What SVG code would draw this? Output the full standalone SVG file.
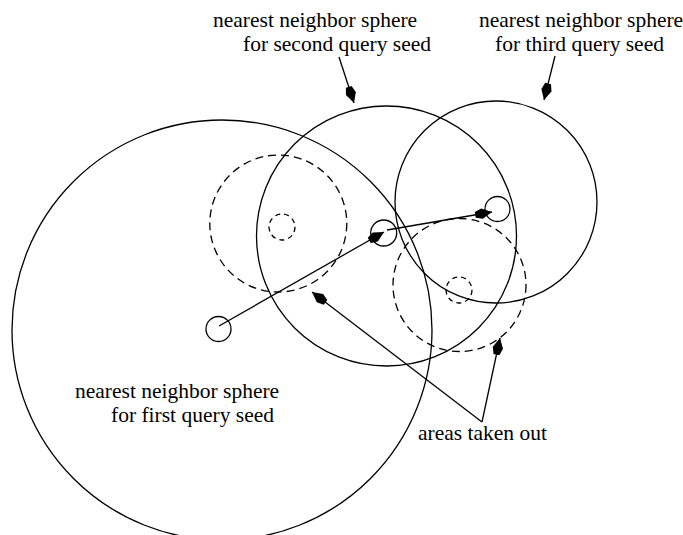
<svg xmlns="http://www.w3.org/2000/svg" width="683" height="535" viewBox="0 0 683 535">
<style>
.sphere{fill:none;stroke:#000;stroke-width:1.3}
.dash{fill:none;stroke:#000;stroke-width:1.3;stroke-dasharray:8 5}
.dsm{fill:none;stroke:#000;stroke-width:1.3;stroke-dasharray:5 4}
.seed{fill:none;stroke:#000;stroke-width:1.3}
.conn{fill:none;stroke:#000;stroke-width:1.3;marker-end:url(#ah)}
text{font-family:"Liberation Serif","Times New Roman",serif;font-size:21.5px;fill:#000}
</style>
<defs>
<marker id="ah" viewBox="-19 -7 20 14" refX="0" refY="0" markerWidth="20" markerHeight="14" markerUnits="userSpaceOnUse" orient="auto">
<path d="M0,0 L-10,-5.2 L-17,-3 L-17,3 L-10,5.2 Z" fill="#000"/>
</marker>
</defs>
<g id="sphere1"><circle class="sphere" cx="222" cy="330" r="210"/></g>
<g id="sphere2"><circle class="sphere" cx="386.5" cy="236" r="130"/></g>
<g id="sphere3"><circle class="sphere" cx="496" cy="202" r="101"/></g>
<g id="removedA"><circle class="dash" cx="278.3" cy="223.5" r="68.5"/><circle class="dsm" cx="282" cy="227" r="13"/></g>
<g id="removedB"><circle class="dash" cx="459.5" cy="285" r="66.5"/><circle class="dsm" cx="459" cy="290" r="13"/></g>
<g id="seed1"><circle class="seed" cx="218.5" cy="329" r="12.5"/></g>
<g id="seed2"><circle class="seed" cx="383.7" cy="233" r="13"/></g>
<g id="seed3"><circle class="seed" cx="497.5" cy="209" r="12.5"/></g>
<g id="connectors">
<line class="conn" x1="219" y1="326" x2="384" y2="232"/>
<line class="conn" x1="387" y1="230" x2="492" y2="212"/>
<line class="conn" x1="339" y1="57" x2="354" y2="103"/>
<line class="conn" x1="555" y1="56" x2="544" y2="100"/>
<line class="conn" x1="482" y1="422" x2="312" y2="292"/>
<line class="conn" x1="482" y1="422" x2="500" y2="338"/>
</g>
<g id="label-second"><text x="213" y="27">nearest neighbor sphere</text><text x="243" y="51">for second query seed</text></g>
<g id="label-third"><text x="479" y="27">nearest neighbor sphere</text><text x="495" y="51">for third query seed</text></g>
<g id="label-first"><text x="75" y="398">nearest neighbor sphere</text><text x="111" y="422">for first query seed</text></g>
<g id="label-areas"><text x="418" y="440">areas taken out</text></g>
</svg>
